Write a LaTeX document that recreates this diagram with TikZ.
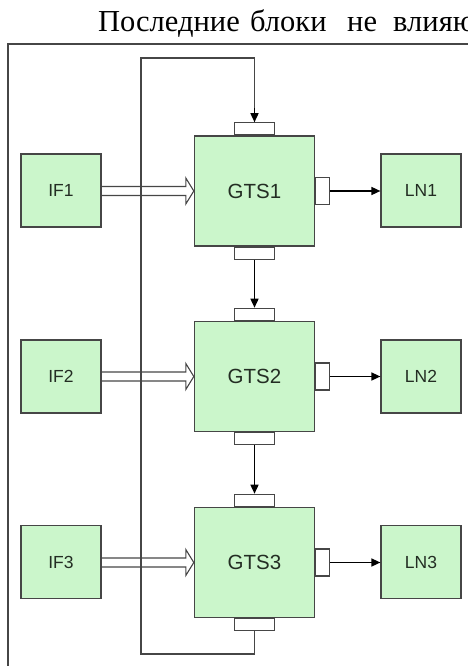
\documentclass[tikz,border=0pt]{standalone}
\usepackage{fontspec}
\setmainfont{Liberation Serif}
\newfontfamily\diagfont{Liberation Sans}
\usetikzlibrary{arrows.meta,calc}
\definecolor{boxgreen}{RGB}{203,246,203}
\definecolor{edgegray}{RGB}{70,70,70}
\definecolor{txtgray}{RGB}{35,45,35}
\tikzset{
  gtsbox/.style={draw=edgegray, line width=1.4pt, fill=boxgreen, minimum width=120pt, minimum height=110pt, inner sep=0pt, font=\diagfont\fontsize{20.5}{22}\selectfont, text=txtgray},
  smallbox/.style={draw=edgegray, line width=1.2pt, fill=boxgreen, minimum width=80pt, minimum height=73pt, inner sep=0pt, font=\diagfont\fontsize{17.5}{19}\selectfont, text=txtgray},
  hport/.style={draw=edgegray, line width=1.1pt, fill=white, minimum width=40pt, minimum height=12pt, inner sep=0pt},
  vport/.style={draw=edgegray, line width=1.1pt, fill=white, minimum width=14pt, minimum height=27pt, inner sep=0pt},
  arr/.style={draw=black, line width=1.5pt, -{Triangle[length=9pt,width=8pt]}},
  loopline/.style={draw=edgegray, line width=1.6pt},
  hollow/.style={draw=edgegray, line width=1.1pt, line join=miter},
  framel/.style={draw=edgegray, line width=1.3pt}
}
\begin{document}
\begin{tikzpicture}[x=1pt,y=-1pt]
\useasboundingbox (0,0) rectangle (468,666);
% title
\node[anchor=base west, inner sep=0pt, font=\fontsize{30.5}{33}\selectfont] (title) at (98,32)
  {\makebox[152pt][l]{Последние}\makebox[97pt][l]{блоки}\makebox[46pt][l]{не}влияют};
% frame
\coordinate (fr1) at (8,44);
\coordinate (fr2) at (470,44);
\coordinate (fr3) at (8,668);
\draw[framel] (fr2) -- (fr1) -- (fr3);
% main blocks
\node[gtsbox] (g1) at (254.5,191) {GTS1};
\node[gtsbox] (g2) at (254.5,376.5) {GTS2};
\node[gtsbox] (g3) at (254.5,562.5) {GTS3};
% ports
\foreach \g in {g1,g2,g3}{
  \node[hport, anchor=south] (\g t) at (\g.north) {};
  \node[hport, anchor=north] (\g b) at (\g.south) {};
}
\node[vport, anchor=west] (g1r) at (g1.east) {};
\node[vport, anchor=west] (g2r) at (g2.east) {};
\node[vport, anchor=west] (g3r) at (g3.east) {};
% side blocks
\node[smallbox] (if1) at (61,190.5) {IF1};
\node[smallbox] (if2) at (61,376.5) {IF2};
\node[smallbox] (if3) at (61,562) {IF3};
\node[smallbox] (ln1) at (421,190.5) {LN1};
\node[smallbox] (ln2) at (421,376.5) {LN2};
\node[smallbox] (ln3) at (421,562) {LN3};
% loop
\coordinate (lb) at (141,654);
\coordinate (lt) at (141,58);
\draw[loopline] (g3b.south) |- (lb) -- (lt) -| (g1t.north);
\draw[arr] ($(g1t.north)+(0,-14)$) -- (g1t.north);
% vertical arrows
\draw[arr] (g1b.south) -- (g2t.north);
\draw[arr] (g2b.south) -- (g3t.north);
% output arrows
\draw[arr] (g1r.east) -- (ln1.west |- g1r.east);
\draw[arr] (g2r.east) -- (ln2.west |- g2r.east);
\draw[arr] (g3r.east) -- (ln3.west |- g3r.east);
% hollow input arrows
\foreach \a/\b in {if1/g1,if2/g2,if3/g3}{
  \draw[hollow] (\a.east |- \b.west) ++(0,-4.5) coordinate (s1)
     -- ($(\b.west)+(-8,-4.5)$) -- ($(\b.west)+(-8,-13)$) -- (\b.west)
     -- ($(\b.west)+(-8,13)$) -- ($(\b.west)+(-8,4.5)$) -- ($(\a.east |- \b.west)+(0,4.5)$);
}
\end{tikzpicture}
\end{document}
